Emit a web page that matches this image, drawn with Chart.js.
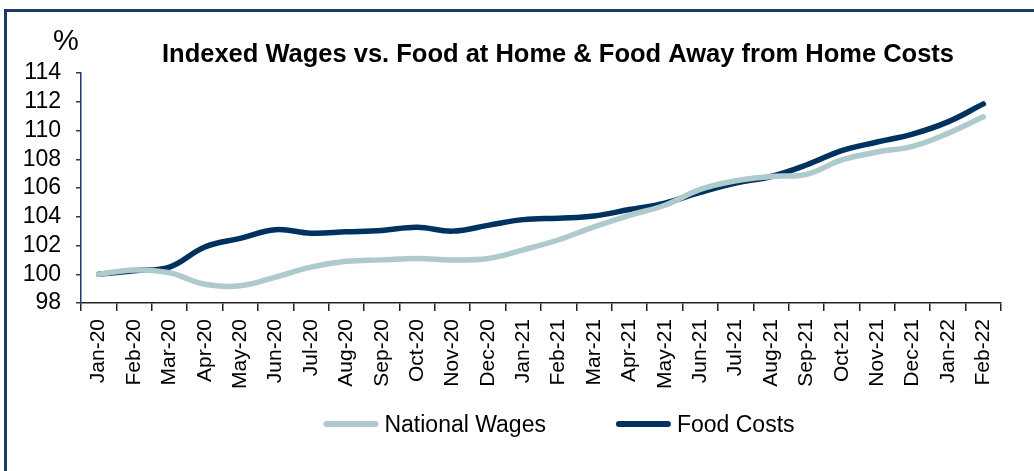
<!DOCTYPE html>
<html>
<head>
<meta charset="utf-8">
<script src="https://cdn.jsdelivr.net/npm/chart.js@4/dist/chart.umd.min.js"></script>
<style>
html,body{margin:0;padding:0;background:#fff;overflow:hidden}
#wrap{position:relative;width:1034px;height:471px}
#frame{position:absolute;left:4px;top:9px;width:1100px;height:600px;border:3px solid #1b3a66;box-sizing:border-box;pointer-events:none}
</style>
</head>
<body>
<div id="wrap">
<canvas id="chart" width="1034" height="471"></canvas>
<div id="frame"></div>
</div>
<script>
'use strict';
const months = ["Jan-20","Feb-20","Mar-20","Apr-20","May-20","Jun-20","Jul-20","Aug-20","Sep-20","Oct-20","Nov-20","Dec-20",
	"Jan-21","Feb-21","Mar-21","Apr-21","May-21","Jun-21","Jul-21","Aug-21","Sep-21","Oct-21","Nov-21","Dec-21",
	"Jan-22","Feb-22"];
const wages = [100.0, 100.3, 100.1, 99.3, 99.2, 99.8, 100.5, 100.9, 101.0, 101.1, 101.0, 101.1,
	101.7, 102.4, 103.3, 104.1, 104.8, 105.9, 106.5, 106.8, 106.95, 107.95, 108.5, 108.9,
	109.8, 110.95];
const food = [100.0, 100.25, 100.5, 101.9, 102.5, 103.1, 102.85, 102.95, 103.05, 103.27, 103.0, 103.4,
	103.8, 103.9, 104.05, 104.5, 104.95, 105.7, 106.35, 106.8, 107.6, 108.6, 109.2, 109.75,
	110.6, 111.85];
const yTicks = [98, 100, 102, 104, 106, 108, 110, 112, 114];
const title = "Indexed Wages vs. Food at Home & Food Away from Home Costs";

const wageColor = "#aecacc",
	foodColor = "#00325f",
	font = '"Liberation Sans", Arial, sans-serif';

//------- [ title, % and legend drawn on the canvas ] --------
const extras = {
	id: "extras",
	afterDraw(chart) {
		const ctx = chart.ctx;
		ctx.save();
		ctx.fillStyle = "#000";
		ctx.textBaseline = "alphabetic";
		ctx.font = "bold 25.5px " + font;
		ctx.textAlign = "center";
		ctx.fillText(title, 558, 62);
		ctx.font = "29px " + font;
		ctx.textAlign = "left";
		ctx.fillText("%", 53, 50);

		// legend
		ctx.font = "23px " + font;
		ctx.textBaseline = "middle";
		const sample = 55, gap = 6, between = 70;
		let items = chart.data.datasets.map(d => ({text: d.label, color: d.borderColor, w: ctx.measureText(d.label).width}));
		let total = items.reduce((s, it) => s + sample + gap + it.w, 0) + between * (items.length - 1);
		let x = 559 - total / 2, y = 424;
		items.forEach(it => {
			ctx.strokeStyle = it.color;
			ctx.lineWidth = 6;
			ctx.lineCap = "round";
			ctx.beginPath();
			ctx.moveTo(x + 3, y);
			ctx.lineTo(x + sample - 3, y);
			ctx.stroke();
			ctx.fillStyle = "#000";
			ctx.fillText(it.text, x + sample + gap, y + 2);
			x += sample + gap + it.w + between;
		});
		ctx.restore();
	}
};

const noPad = s => { s.paddingTop = 0; s.paddingBottom = 0; s.paddingLeft = 0; s.paddingRight = 0; };

new Chart(document.getElementById("chart").getContext("2d"), {
	type: "line",
	data: {
		labels: months,
		datasets: [{
			label: "National Wages",
			data: wages,
			borderColor: wageColor,
			backgroundColor: wageColor,
			borderWidth: 5.5,
			borderCapStyle: "round",
			tension: 0.4,
			pointRadius: 0
		}, {
			label: "Food Costs",
			data: food,
			borderColor: foodColor,
			backgroundColor: foodColor,
			borderWidth: 5.5,
			borderCapStyle: "round",
			tension: 0.4,
			pointRadius: 0
		}]
	},
	options: {
		responsive: false,
		animation: false,
		devicePixelRatio: 1,
		layout: {padding: {top: 73, right: 33, bottom: 0, left: 0}},
		plugins: {legend: {display: false}, title: {display: false}, tooltip: {enabled: false}},
		scales: {
			x: {
				offset: true,
				grid: {offset: true, drawOnChartArea: false, drawTicks: true, tickLength: 8, tickColor: "#222", lineWidth: 1.5},
				border: {color: "#222", width: 1.5},
				ticks: {maxRotation: 90, minRotation: 90, autoSkip: false, padding: 8, color: "#000", font: {family: font, size: 21}},
				afterFit: s => { s.height = 168; noPad(s); }
			},
			y: {
				min: 98,
				max: 114,
				afterBuildTicks: s => { s.ticks = yTicks.map(v => ({value: v})); },
				grid: {drawOnChartArea: false, drawTicks: true, tickLength: 5, tickColor: "#1f3a6e", lineWidth: 1.5},
				border: {color: "#1f3a6e", width: 1.5},
				ticks: {autoSkip: false, padding: 15, color: "#000", font: {family: font, size: 23}},
				afterFit: s => { s.width = 81; noPad(s); }
			}
		}
	},
	plugins: [extras]
});
</script>
</body>
</html>
